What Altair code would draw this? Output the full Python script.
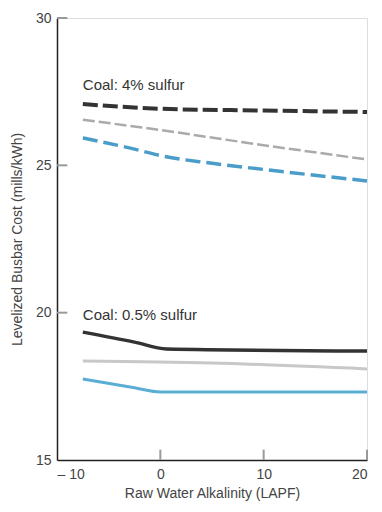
import altair as alt
import pandas as pd

# ---- data ----
x_b4 = [-7.5, 0, 10, 20]
y_b4 = [27.08, 26.92, 26.86, 26.81]
x_g4 = [-7.5, 0, 10, 20]
y_g4 = [26.55, 26.2, 25.68, 25.2]
x_c4 = [-7.5, -2.5, 0, 5, 10, 20]
y_c4 = [25.93, 25.55, 25.33, 25.07, 24.86, 24.47]

x_b05 = [-7.5, -2.5, 0.6, 20]
y_b05 = [19.34, 19.0, 18.77, 18.70]
x_g05 = [-7.5, 5, 20]
y_g05 = [18.36, 18.29, 18.09]
x_c05 = [-7.5, -2.5, 0, 20]
y_c05 = [17.75, 17.45, 17.31, 17.31]

labels_text = ["Coal:  4% sulfur", "Coal:  0.5% sulfur"]
labels_x = [-7.5, -7.5]
labels_y = [27.55, 19.75]

y_ticks = [20, 25, 30]
x_ticks = [0, 10, 20]

def frame(xs, ys, name):
    return pd.DataFrame({"x": xs, "y": ys, "series": name})

xs = alt.Scale(domain=[-10, 20], nice=False, zero=False)
ys = alt.Scale(domain=[15, 30], nice=False, zero=False)

X = alt.X("x:Q", scale=xs,
          axis=alt.Axis(title="Raw Water Alkalinity (LAPF)", values=[-10, 0, 10, 20],
                        labelExpr="datum.value < 0 ? '\u2013 ' + abs(datum.value) : datum.label",
                        grid=False, ticks=False, domainColor="#222", domainWidth=1.5,
                        labelFontSize=14, labelColor="#444", labelPadding=7,
                        titleFontSize=14, titleColor="#444", titleFontWeight="normal",
                        titlePadding=5, labelFont="Liberation Sans", titleFont="Liberation Sans"))
Y = alt.Y("y:Q", scale=ys,
          axis=alt.Axis(title="Levelized Busbar Cost (mills/kWh)", values=[15, 20, 25, 30],
                        grid=False, ticks=False, domainColor="#222", domainWidth=1.5,
                        labelFontSize=14, labelColor="#444", labelPadding=6,
                        titleFontSize=14, titleColor="#444", titleFontWeight="normal",
                        titlePadding=11, labelFont="Liberation Sans", titleFont="Liberation Sans"))

def line(df, color, width, dash=None, interp="monotone"):
    kw = dict(color=color, strokeWidth=width, interpolate=interp)
    if dash:
        kw["strokeDash"] = dash
    return alt.Chart(df).mark_line(**kw).encode(x=X, y=Y)

layers = [
    line(frame(x_b4, y_b4, "b4"), "#333333", 4, [15, 5]),
    line(frame(x_g4, y_g4, "g4"), "#aaaaaa", 2.5, [12, 4], "linear"),
    line(frame(x_c4, y_c4, "c4"), "#4a9dc8", 3.5, [15, 6]),
    line(frame(x_b05, y_b05, "b05"), "#333333", 3.5),
    line(frame(x_g05, y_g05, "g05"), "#c8c8c8", 3),
    line(frame(x_c05, y_c05, "c05"), "#5aaed4", 3),
]

ytick_df = pd.DataFrame({"y": y_ticks, "x": [-10] * 3, "x2": [-9] * 3})
ytk = alt.Chart(ytick_df).mark_rule(color="#999999", strokeWidth=2).encode(
    x=alt.X("x:Q", scale=xs), x2="x2:Q", y=alt.Y("y:Q", scale=ys))
xtick_df = pd.DataFrame({"x": x_ticks, "y": [15] * 3, "y2": [15.35] * 3})
xtk = alt.Chart(xtick_df).mark_rule(color="#999999", strokeWidth=2).encode(
    x=alt.X("x:Q", scale=xs), y=alt.Y("y:Q", scale=ys), y2="y2:Q")

lab_df = pd.DataFrame({"x": labels_x, "y": labels_y, "t": labels_text})
labs = alt.Chart(lab_df).mark_text(align="left", baseline="alphabetic", fontSize=15,
                                   color="#333333", font="Liberation Sans").encode(
    x=alt.X("x:Q", scale=xs), y=alt.Y("y:Q", scale=ys), text="t:N")

chart = alt.layer(*layers, ytk, xtk, labs).properties(
    width=310, height=442,
    autosize=alt.AutoSizeParams(type="none"),
    padding={"left": 49, "top": 10, "right": 7, "bottom": 44},
).configure_view(stroke=None).configure(background="white")

chart.save("out.html", embed_options={"renderer": "svg", "actions": False})
